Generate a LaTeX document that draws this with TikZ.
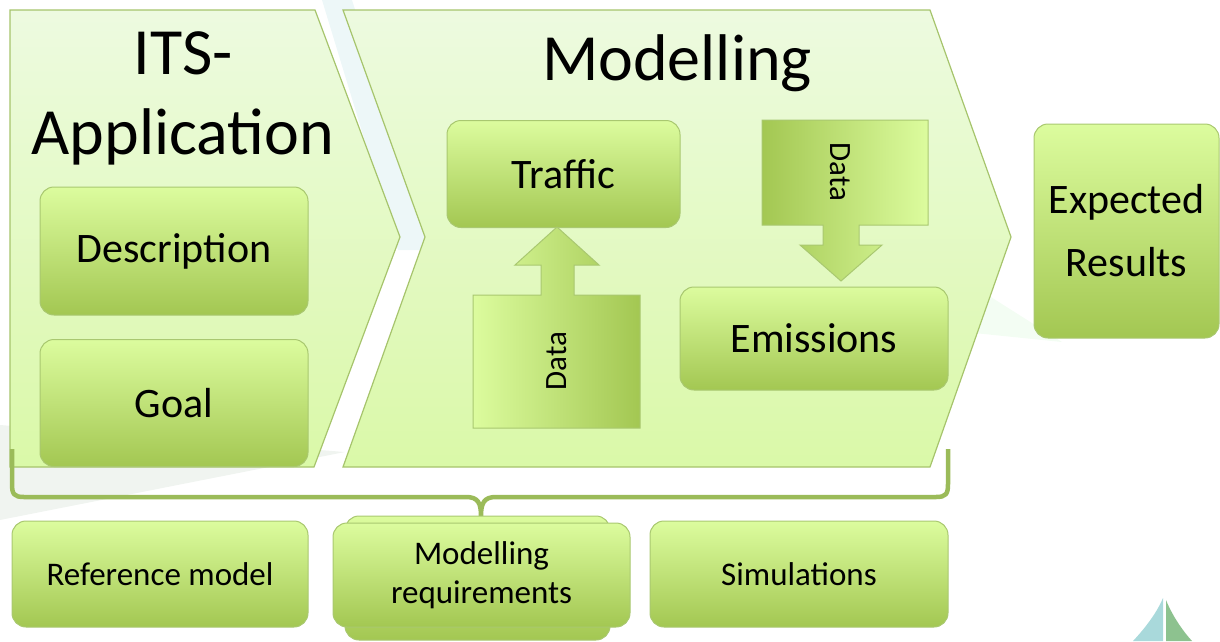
\documentclass[tikz,border=0pt]{standalone}
\usepackage{fontspec}
\setmainfont{Carlito}
\definecolor{chevtop}{HTML}{EDFAE0}
\definecolor{chevbot}{HTML}{DAF9A8}
\definecolor{chevline}{HTML}{A6C46C}
\definecolor{boxtop}{HTML}{DCFC9E}
\definecolor{boxbot}{HTML}{A3C752}
\definecolor{boxline}{HTML}{A9C870}
\definecolor{bracecol}{HTML}{9BBB59}
\definecolor{wmblue}{HTML}{EDF7F8}
\definecolor{wmgray}{HTML}{F0F4F0}
\definecolor{logoteal}{HTML}{A9D9DB}
\definecolor{logogreen}{HTML}{8DC28F}
\tikzset{
  chevron/.style={draw=chevline, line width=1.2pt, top color=chevtop, bottom color=chevbot},
  innerbox/.style={draw=boxline, line width=1pt, rounded corners=14pt, top color=boxtop, bottom color=boxbot, inner sep=0pt, align=center},
  callup/.style={draw=boxline, line width=1pt, left color=boxtop, right color=boxbot},
  calldown/.style={draw=boxline, line width=1pt, left color=boxbot, right color=boxtop},
  brace/.style={draw=bracecol, line width=4.5pt, line join=round},
  title/.style={font=\fontsize{66}{80}\selectfont, align=center, inner sep=0pt},
  midlabel/.style={font=\fontsize{42}{63}\selectfont},
  smalllabel/.style={font=\fontsize{33}{39}\selectfont},
  datalabel/.style={font=\fontsize{31}{36}\selectfont, inner sep=0pt},
}
\begin{document}
\begin{tikzpicture}[x=1pt,y=-1pt]
\useasboundingbox (0,0) rectangle (1220,641);
% faint watermark
\fill[wmgray] (0,520) -- (0,425) -- (345,452) -- cycle;
\fill[wmgray!80!green!20] (945,268) -- (1062,342) -- (945,330) -- cycle;
\fill[wmblue] (322,0) -- (352,0) -- (432,250) -- (398,250) -- cycle;
% logo
\fill[logoteal] (1133,641) .. controls (1148,625) and (1158,610) .. (1163,598) -- (1163,641) -- cycle;
\fill[logogreen] (1166,641) -- (1166,600) .. controls (1172,615) and (1182,630) .. (1192,641) -- cycle;
% chevrons
\path[chevron] (10,10) -- (315,10) -- (400,237) -- (314,467) -- (10,467) -- cycle;
\path[chevron] (343,10) -- (930,10) -- (1011,237) -- (930,467) -- (343,467) -- (425,237) -- cycle;
% titles
\node[title] (its) at (183,98) {ITS-\\Application};
\node[title, anchor=base] (mod) at (677,80) {Modelling};
% left boxes
\node[innerbox, midlabel, minimum width=268pt, minimum height=128pt] (desc) at (174,251) {Description};
\node[innerbox, midlabel, minimum width=268pt, minimum height=127pt] (goal) at (174,403) {Goal};
% modelling boxes
\node[innerbox, midlabel, minimum width=233pt, minimum height=107pt] (traffic) at (563.5,174) {Traffic};
\node[innerbox, midlabel, minimum width=268pt, minimum height=103pt] (emis) at (814,338.5) {Emissions};
% data callouts
\path[callup] (473,428) -- (473,295) -- (541,295) -- (541,265) -- (515,265) -- (557,227) -- (599,265) -- (574,265) -- (574,295) -- (640,295) -- (640,428) -- cycle;
\node[datalabel, rotate=90] (dataup) at (557,361) {Data};
\path[calldown] (762,120) -- (928,120) -- (928,225) -- (859,225) -- (859,245) -- (882,245) -- (841,281) -- (800,245) -- (823,245) -- (823,225) -- (762,225) -- cycle;
\node[datalabel, rotate=-90] (datadown) at (840,172) {Data};
% expected results
\node[innerbox, midlabel, minimum width=185pt, minimum height=214pt] (exp) at (1126.5,231) {Expected\\Results};
% brace
\draw[brace] (12,449) -- (12,484) .. controls (12,494) and (14,497) .. (24,497) -- (466,497) .. controls (478,497) and (481,503) .. (481,516) .. controls (481,503) and (484,497) .. (496,497) -- (936,497) .. controls (946,497) and (948,494) .. (948,484) -- (948,449);
% bottom boxes
\node[innerbox, smalllabel, minimum width=296pt, minimum height=106pt] (ref) at (160,574) {Reference model};
\path[innerbox] (345,516) rectangle (610,640);
\node[innerbox, smalllabel, minimum width=297pt, minimum height=104pt] (req) at (481.5,575) {Modelling\\requirements};
\node[innerbox, smalllabel, minimum width=298pt, minimum height=106pt] (sim) at (799,574) {Simulations};
\end{tikzpicture}
\end{document}
